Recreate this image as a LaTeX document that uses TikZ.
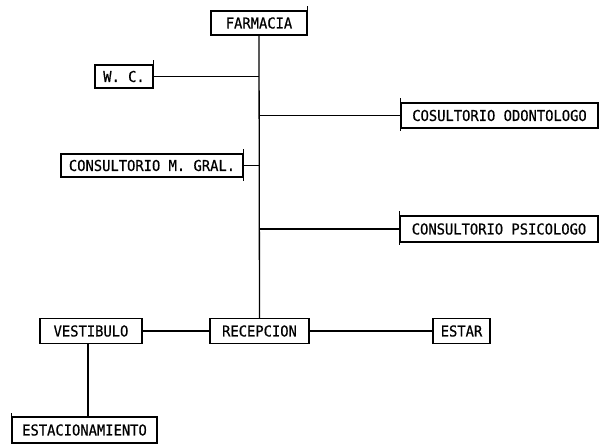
\documentclass[tikz,border=0pt]{standalone}
\usepackage{fontspec}
\newfontfamily\twfont{DejaVu Sans Mono}[FakeStretch=0.92,FakeBold=0.6]
\begin{document}
\begin{tikzpicture}[x=1pt,y=-1pt,line width=1.3pt,
  room/.style={draw,rectangle,inner sep=0pt,minimum height=24pt,font=\twfont\fontsize{15}{17}\selectfont},
  link/.style={draw,line width=1.3pt}]
\useasboundingbox (0,0) rectangle (600,445);
\node[room,minimum width=96pt]  (farm) at (259,23)    {FARMACIA};
\node[room,minimum width=58pt,minimum height=23pt]  (wc)   at (124,76.5)  {W.\ C.};
\node[room,minimum width=182pt,minimum height=23pt] (gral) at (152,165.5) {CONSULTORIO M. GRAL.};
\node[room,minimum width=197pt,minimum height=25pt] (odon) at (499.5,115.5) {COSULTORIO ODONTOLOGO};
\node[room,minimum width=198pt,minimum height=26pt] (psic) at (499,229) {CONSULTORIO PSICOLOGO};
\node[room,minimum width=99pt,minimum height=25pt]  (rec)  at (259.5,331) {RECEPCION};
\node[room,minimum width=102pt,minimum height=25pt] (vest) at (91,331)   {VESTIBULO};
\node[room,minimum width=57pt,minimum height=25pt]  (estar) at (461.5,331) {ESTAR};
\node[room,minimum width=145pt,minimum height=26pt] (estac) at (84.5,430) {ESTACIONAMIENTO};
% spine
\draw[link] (farm.south) -- (rec.north);
\draw[link] (wc.east) -- (wc.east -| farm.south);
\draw[link] (gral.east) -- (gral.east -| farm.south);
\draw[link] (odon.west) -- (odon.west -| farm.south);
\draw[link] (psic.west) -- (psic.west -| farm.south);
\draw[link] (vest.east) -- (rec.west);
\draw[link] (rec.east) -- (estar.west);
\draw[link] ([xshift=-3pt]vest.south) -- ([xshift=-3pt]vest.south |- estac.north);
% hand-drawn tick extensions
\draw[link] (farm.north east) -- ++(0,-4);
\draw[link] (wc.north east) -- ++(0,-4);
\draw[link] (gral.north east) -- ++(0,-4);
\draw[link] (gral.south east) -- ++(0,3);
\draw[link] (odon.north west) -- ++(0,-4);
\draw[link] (odon.south west) -- ++(0,2);
\draw[link] (psic.north west) -- ++(0,-4);
\draw[link] (psic.south west) -- ++(0,2);
\draw[link] (estac.north west) -- ++(0,-3);
\end{tikzpicture}
\end{document}
